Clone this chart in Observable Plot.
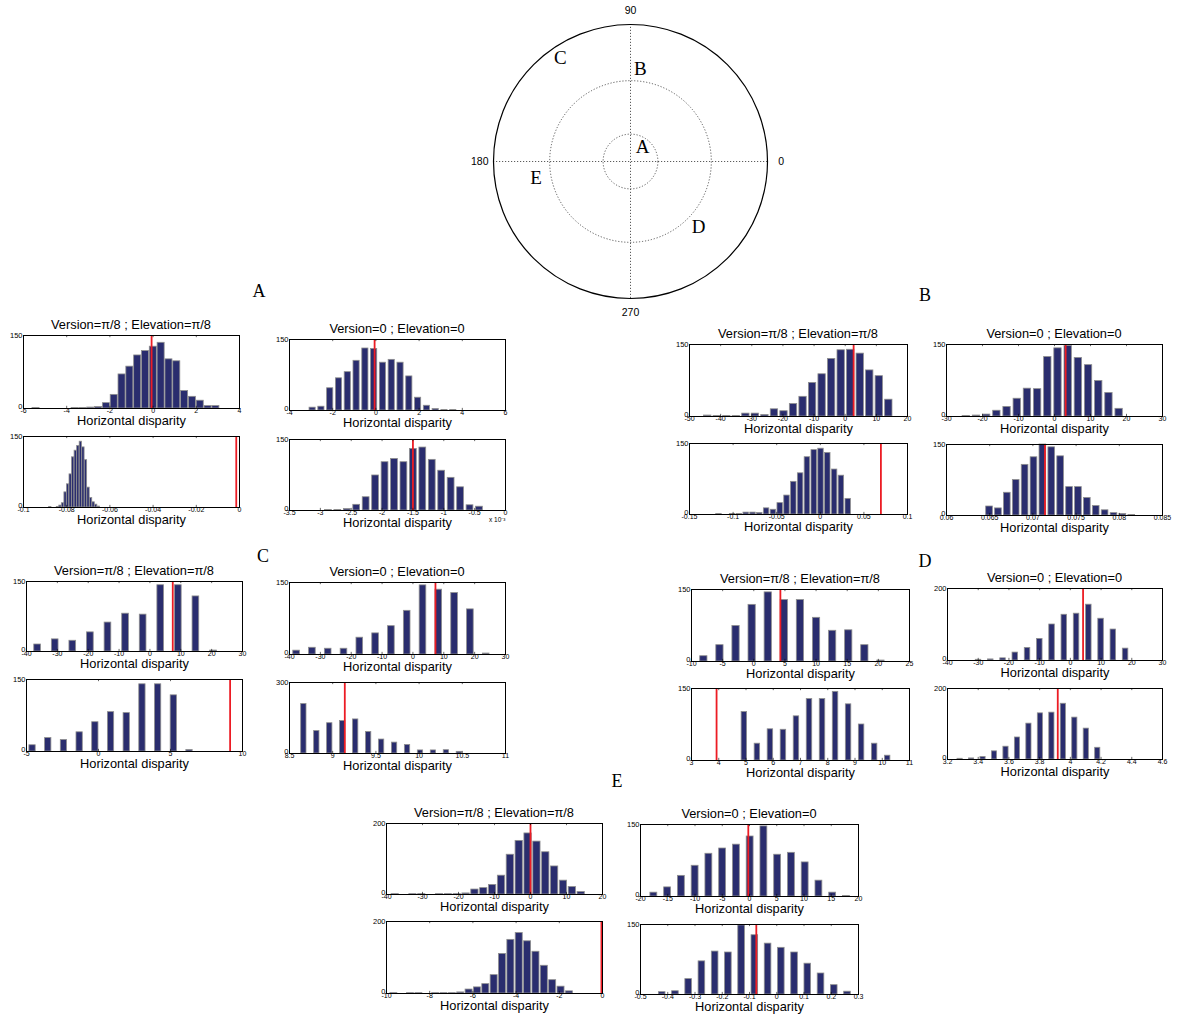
<!DOCTYPE html>
<html>
<head>
<meta charset="utf-8">
<script src="https://cdn.jsdelivr.net/npm/d3@7"></script>
<script src="https://cdn.jsdelivr.net/npm/@observablehq/plot@0.6"></script>
<style>
  body { margin: 0; background: #fff; }
  #fig { position: relative; width: 1179px; height: 1023px; overflow: hidden;
         font-family: "Liberation Sans", Arial, Helvetica, sans-serif; color: #000; }
  .panel { position: absolute; }
  .title { position: absolute; font-size: 12.8px; white-space: nowrap; transform: translate(-50%, -50%); }
  .group { position: absolute; font-family: "Liberation Serif", "Times New Roman", serif; font-size: 18px;
           transform: translate(-50%, -50%); }
</style>
</head>
<body>
<div id="fig"></div>
<script>
// ---------------------------------------------------------------------------
// Data: one entry per histogram panel (zone A..E, four panels per zone:
// top-left, bottom-left, top-right, bottom-right)
// ---------------------------------------------------------------------------
const panelNames = ["A1","A2","A3","A4","B1","B2","B3","B4","C1","C2","C3","C4",
                    "D1","D2","D3","D4","E1","E2","E3","E4"];

// centre of the first bin and bin spacing
const firstCentre = [-5.42, -0.0876, -2.93, -2.87,
                     -44.14, -0.1162, -24.5, 0.06498,
                     -36.4, -4.58, -37.7, 8.666,
                     -8.02, 4.94, -29.9, 3.282,
                     -37.58, -9.66, -17.55, -0.4204];
const binWidth = [0.362, 0.00118, 0.407, 0.153,
                  3.06, 0.0078, 2.83, 0.001029,
                  5.70, 1.09, 5.12, 0.150,
                  2.585, 0.478, 3.99, 0.0747,
                  2.46, 0.387, 2.524, 0.04857];

// bin counts
const counts = [
  [1,0,0,0,0,1,1,2,3,11,28,70,86,109,118,127,135,101,97,36,24,16,5,5],
  [1,0,0,1,4,9,32,49,70,106,120,130,139,127,100,42,20,11,6,2],
  [6,8,47,68,81,105,131,130,101,107,101,72,27,10,3,1,1],
  [1,1,3,12,28,74,102,109,102,130,133,107,84,69,49,11,8],
  [2,1,1,1,6,6,3,15,11,26,41,70,88,120,138,139,131,96,84,35],
  [1,0,1,1,4,4,3,13,10,24,40,69,87,121,136,139,130,95,82,33],
  [1,2,4,12,20,37,58,57,124,142,147,122,107,74,49,16],
  [19,15,48,75,107,123,150,144,125,60,60,37,20,11,5,3,1],
  [15,26,23,41,62,81,79,142,142,118,2],
  [13,28,24,40,61,82,80,140,140,117,3],
  [8,14,12,12,35,44,59,91,144,135,128,94,2],
  [209,95,128,137,144,91,59,46,36,13,13,14,7],
  [11,34,74,118,144,128,128,91,64,65,34,2],
  [101,35,65,64,92,128,128,143,117,75,35,10],
  [2,3,6,22,35,60,100,127,130,155,116,86,33],
  [2,3,7,23,36,62,101,130,132,157,118,87,33],
  [1,0,1,1,0,1,1,1,3,14,18,27,53,112,151,172,149,119,79,39,21,7],
  [1,0,1,1,0,1,1,1,3,11,17,26,51,110,149,168,145,116,77,37,19,6],
  [8,19,43,64,89,100,108,125,146,87,91,71,33,8,1],
  [5,7,33,71,92,90,148,127,109,100,90,66,45,20,6]
];

// reference disparity drawn as the red line
const meanValue = [-0.07, -0.0015, -0.06, -1.5,
                   2.7, 0.0695, 3.1, 0.0714,
                   7.4, 9.14, 7.3, 9.14,
                   4.27, 3.92, 4.14, 3.918,
                   0, -0.05, -0.22, -0.075];

const xDomain = [[-6,4],[-0.1,0],[-4,6],[-3.5,0],
                 [-50,20],[-0.15,0.1],[-30,30],[0.06,0.085],
                 [-40,30],[-5,10],[-40,30],[8.5,11],
                 [-10,25],[3,11],[-40,30],[3.2,4.6],
                 [-40,20],[-10,0],[-20,20],[-0.5,0.3]];

const xTicks = [
  [-6,-4,-2,0,2,4],
  [-0.1,-0.08,-0.06,-0.04,-0.02,0],
  [-4,-2,0,2,4,6],
  [-3.5,-3,-2.5,-2,-1.5,-1,-0.5,0],
  [-50,-40,-30,-20,-10,0,10,20],
  [-0.15,-0.1,-0.05,0,0.05,0.1],
  [-30,-20,-10,0,10,20,30],
  [0.06,0.065,0.07,0.075,0.08,0.085],
  [-40,-30,-20,-10,0,10,20,30],
  [-5,0,5,10],
  [-40,-30,-20,-10,0,10,20,30],
  [8.5,9,9.5,10,10.5,11],
  [-10,-5,0,5,10,15,20,25],
  [3,4,5,6,7,8,9,10,11],
  [-40,-30,-20,-10,0,10,20,30],
  [3.2,3.4,3.6,3.8,4,4.2,4.4,4.6],
  [-40,-30,-20,-10,0,10,20],
  [-10,-8,-6,-4,-2,0],
  [-20,-15,-10,-5,0,5,10,15,20],
  [-0.5,-0.4,-0.3,-0.2,-0.1,0,0.1,0.2,0.3]
];

const yMax = [150,150,150,150, 150,150,150,150, 150,150,150,300,
              150,150,200,200, 200,200,150,150];

const titleText = ["Version=π/8 ; Elevation=π/8", null, "Version=0 ; Elevation=0", null,
                   "Version=π/8 ; Elevation=π/8", null, "Version=0 ; Elevation=0", null,
                   "Version=π/8 ; Elevation=π/8", null, "Version=0 ; Elevation=0", null,
                   "Version=π/8 ; Elevation=π/8", null, "Version=0 ; Elevation=0", null,
                   "Version=π/8 ; Elevation=π/8", null, "Version=0 ; Elevation=0", null];

const xLabel = "Horizontal disparity";

// Polar key: zone letters placed by (angle in degrees, radius)
const ringRadius = [0.2, 0.59];
const angleLabels = [0, 90, 180, 270];
const zoneNames = ["A", "B", "C", "D", "E"];
const zoneAngle = [51, 84, 124, 316, 190];
const zoneRadius = [0.14, 0.68, 0.915, 0.69, 0.70];

// ---------------------------------------------------------------------------
// Layout and styles
// ---------------------------------------------------------------------------
// plot frame of each panel: [left, top, width, height] in page pixels
const frames = [
  [23,335,216,73],[23,436,216,71],[289,339,216,71],[289,439,216,71],
  [689,344,218,72],[689,443,218,71],[946,344,216,72],[946,444,216,71],
  [26,581,216,70],[26,679,216,72],[289,582,216,72],[289,682,216,71],
  [691,589,218,72],[691,688,218,72],[947,588,215,72],[947,688,215,71],
  [386,823,216,71],[386,921,216,72],[640,824,218,72],[640,924,218,70]
];
// drawn bar width as a fraction of the bin spacing
const barFraction = [0.9,0.92,0.7,0.72, 0.77,0.8,0.72,0.75, 0.38,0.4,0.42,0.41,
                     0.45,0.42,0.45,0.45, 0.82,0.84,0.5,0.5];
const groupLabels = [["A",259,291],["B",925,295],["C",263,556],["D",925,561],["E",617,781]];

const BAR_FILL = "#2a2d6e", BAR_EDGE = "#8f8f8f", MEAN_RED = "#ec1c24";
const FONT = "Liberation Sans, Arial, Helvetica, sans-serif";

const fig = document.getElementById("fig");

function place(el, left, top, width) {
  el.className = "panel";
  el.style.left = left + "px";
  el.style.top = top + "px";
  if (width) el.style.width = width + "px";
  fig.appendChild(el);
}

// --- histogram panels -------------------------------------------------------
const ML = 26, MR = 8, MT = 6, MB = 28;

panelNames.forEach((name, i) => {
  const [x0, y0, w, h] = frames[i];
  const ym = yMax[i];
  const half = binWidth[i] * barFraction[i] / 2;
  const bars = counts[i]
    .map((c, k) => ({centre: firstCentre[i] + k * binWidth[i], count: c}))
    .filter(d => d.count > 0);

  const marks = [
    Plot.rectY(bars, {
      x1: d => d.centre - half, x2: d => d.centre + half, y: "count",
      fill: BAR_FILL, stroke: BAR_EDGE, strokeWidth: 0.8
    }),
    Plot.ruleX([meanValue[i]], {stroke: MEAN_RED, strokeWidth: 1.8}),
    // inward tick marks on bottom and top edges
    Plot.ruleX(xTicks[i], {y1: 0, y2: ym * 0.03, stroke: "#000", strokeWidth: 0.6}),
    Plot.ruleX(xTicks[i], {y1: ym * 0.97, y2: ym, stroke: "#000", strokeWidth: 0.6}),
    Plot.frame({stroke: "#000", strokeWidth: 1}),
    Plot.axisX(xTicks[i], {tickSize: 0, tickPadding: 0, fontSize: 7, label: null, tickFormat: d => String(d)}),
    Plot.axisY([ym], {tickSize: 0, tickPadding: 1, fontSize: 7.5, label: null, tickFormat: d => String(d)}),
    Plot.axisY([0], {tickSize: 0, tickPadding: 1, fontSize: 7.5, label: null, dy: -2, tickFormat: d => String(d)}),
    Plot.text([xLabel], {frameAnchor: "bottom", dy: 16.5, fontSize: 12.8})
  ];
  if (name === "A4") {
    marks.push(Plot.text(["x 10⁻³"], {frameAnchor: "bottom-right", dy: 11, fontSize: 6.5, textAnchor: "end"}));
  }

  const chart = Plot.plot({
    width: w + ML + MR,
    height: h + MT + MB,
    marginLeft: ML, marginRight: MR, marginTop: MT, marginBottom: MB,
    x: {domain: xDomain[i]},
    y: {domain: [0, ym]},
    style: {fontFamily: FONT, background: "transparent", overflow: "visible"},
    marks
  });
  const holder = document.createElement("div");
  holder.appendChild(chart);
  place(holder, x0 - ML, y0 - MT, w + ML + MR);

  if (titleText[i]) {
    const t = document.createElement("div");
    t.className = "title";
    t.textContent = titleText[i];
    t.style.left = (x0 + w / 2) + "px";
    t.style.top = (y0 - 11.5) + "px";
    fig.appendChild(t);
  }
});

// --- zone letters -----------------------------------------------------------
groupLabels.forEach(([txt, x, y]) => {
  const g = document.createElement("div");
  g.className = "group";
  g.textContent = txt;
  g.style.left = x + "px";
  g.style.top = y + "px";
  fig.appendChild(g);
});

// --- polar key --------------------------------------------------------------
const R = 137;                 // outer radius in pixels
const PW = 320, PH = 322;      // key size
const rad = a => a * Math.PI / 180;
const polar = Plot.plot({
  width: PW, height: PH, margin: 0,
  x: {domain: [-(PW / 2) / R, (PW / 2) / R], axis: null},
  y: {domain: [-(PH / 2) / R, (PH / 2) / R], axis: null},
  r: {type: "linear", domain: [0, 1], range: [0, R]},
  style: {fontFamily: FONT, background: "transparent", overflow: "visible"},
  marks: [
    Plot.ruleX([0], {y1: -1, y2: 1, stroke: "#333", strokeWidth: 0.8, strokeDasharray: "1.2,1.8"}),
    Plot.ruleY([0], {x1: -1, x2: 1, stroke: "#333", strokeWidth: 0.8, strokeDasharray: "1.2,1.8"}),
    Plot.dot(ringRadius, {x: 0, y: 0, r: d => d, stroke: "#333", strokeWidth: 0.8, strokeDasharray: "1.2,1.8"}),
    Plot.dot([1], {x: 0, y: 0, r: d => d, stroke: "#000", strokeWidth: 1.2}),
    Plot.text(angleLabels, {
      x: d => 1.1 * Math.cos(rad(d)), y: d => 1.1 * Math.sin(rad(d)),
      text: d => String(d), fontSize: 10.5
    }),
    Plot.text(zoneNames, {
      x: (d, i) => zoneRadius[i] * Math.cos(rad(zoneAngle[i])),
      y: (d, i) => zoneRadius[i] * Math.sin(rad(zoneAngle[i])),
      text: d => d, fontSize: 19, fontFamily: "Liberation Serif, Times New Roman, serif"
    })
  ]
});
const polarHolder = document.createElement("div");
polarHolder.appendChild(polar);
place(polarHolder, 630 - PW / 2, 161 - PH / 2, PW);
</script>
</body>
</html>
